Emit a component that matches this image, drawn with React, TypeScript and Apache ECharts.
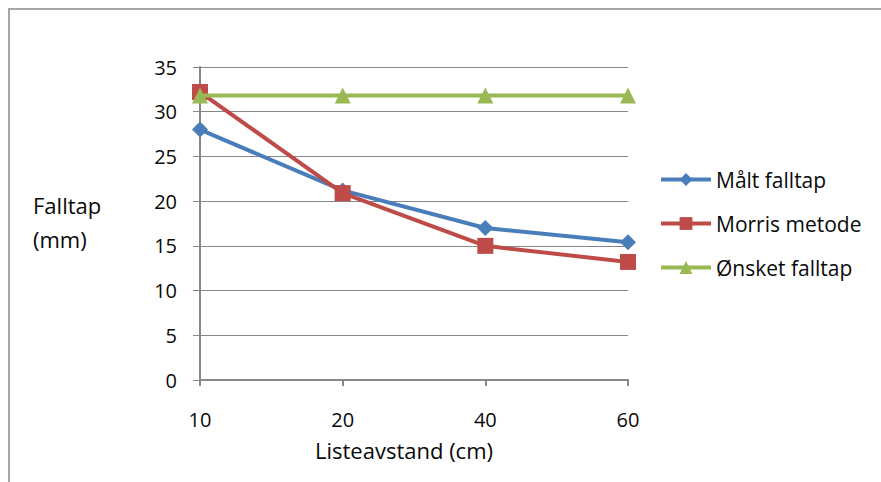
import React, { useEffect, useRef } from "react";
import * as echarts from "echarts";

const categories = ["10", "20", "40", "60"];
const maaltFalltap = [28.0, 21.2, 17.0, 15.4];
const morrisMetode = [32.2, 20.9, 15.0, 13.2];
const onsketFalltap = [31.8, 31.8, 31.8, 31.8];
const seriesNames = ["Målt falltap", "Morris metode", "Ønsket falltap"];

const FONT = "'Open Sans', Lato, sans-serif";
const TXT = "#0a0a0a";

export default function App() {
  const ref = useRef<HTMLDivElement>(null);
  useEffect(() => {
    document.body.style.margin = "0";
    const chart = echarts.init(ref.current!, undefined, { renderer: "svg" });
    chart.setOption({
      animation: false,
      backgroundColor: "#ffffff",
      textStyle: { fontFamily: FONT },
      grid: { left: 200, right: 253, top: 67, bottom: 102, containLabel: false },
      graphic: [
        {
          type: "rect",
          shape: { x: 9, y: 9, width: 900, height: 500 },
          style: { fill: "none", stroke: "#a6a6a6", lineWidth: 2 },
          silent: true,
        },
        {
          type: "text",
          left: 33,
          top: 188,
          style: {
            text: "Falltap\n(mm)",
            fontFamily: FONT,
            fontSize: 22,
            lineHeight: 34,
            fill: TXT,
          },
        },
      ],
      legend: {
        orient: "vertical",
        left: 654,
        top: 164,
        itemWidth: 50,
        itemHeight: 16,
        itemGap: 23,
        data: seriesNames,
        lineStyle: { width: 4 },
        textStyle: { fontFamily: FONT, fontSize: 21, color: TXT },
      },
      xAxis: {
        type: "category",
        data: categories,
        boundaryGap: false,
        name: "Listeavstand (cm)",
        nameLocation: "middle",
        nameGap: 59,
        nameTextStyle: { fontFamily: FONT, fontSize: 22, color: TXT, padding: [0, 20, 0, 0] },
        axisLine: { lineStyle: { color: "#868686", width: 2 } },
        axisTick: { show: true, length: 6, alignWithLabel: true, lineStyle: { color: "#868686", width: 2 } },
        axisLabel: { margin: 29, fontFamily: FONT, fontSize: 20, color: TXT },
        splitLine: { show: false },
      },
      yAxis: {
        type: "value",
        min: 0,
        max: 35,
        interval: 5,
        axisLine: { show: true, lineStyle: { color: "#868686", width: 2 } },
        axisTick: { show: true, length: 7, lineStyle: { color: "#868686", width: 1 } },
        axisLabel: { margin: 23, fontFamily: FONT, fontSize: 20, color: TXT },
        splitLine: { show: true, lineStyle: { color: "#868686", width: 1 } },
      },
      series: [
        {
          name: seriesNames[0],
          type: "line",
          data: maaltFalltap,
          symbol: "diamond",
          symbolSize: 16,
          lineStyle: { color: "#4a7ebb", width: 4 },
          itemStyle: { color: "#4a7ebb" },
          z: 3,
        },
        {
          name: seriesNames[1],
          type: "line",
          data: morrisMetode,
          symbol: "rect",
          symbolSize: 16,
          lineStyle: { color: "#be4b48", width: 4 },
          itemStyle: { color: "#be4b48" },
          z: 4,
        },
        {
          name: seriesNames[2],
          type: "line",
          data: onsketFalltap,
          symbol: "triangle",
          symbolSize: 16,
          lineStyle: { color: "#98b954", width: 4 },
          itemStyle: { color: "#98b954" },
          z: 5,
        },
      ],
    });
    return () => chart.dispose();
  }, []);
  return (
    <div
      ref={ref}
      style={{ position: "absolute", left: 0, top: 0, width: 881, height: 482 }}
    />
  );
}
